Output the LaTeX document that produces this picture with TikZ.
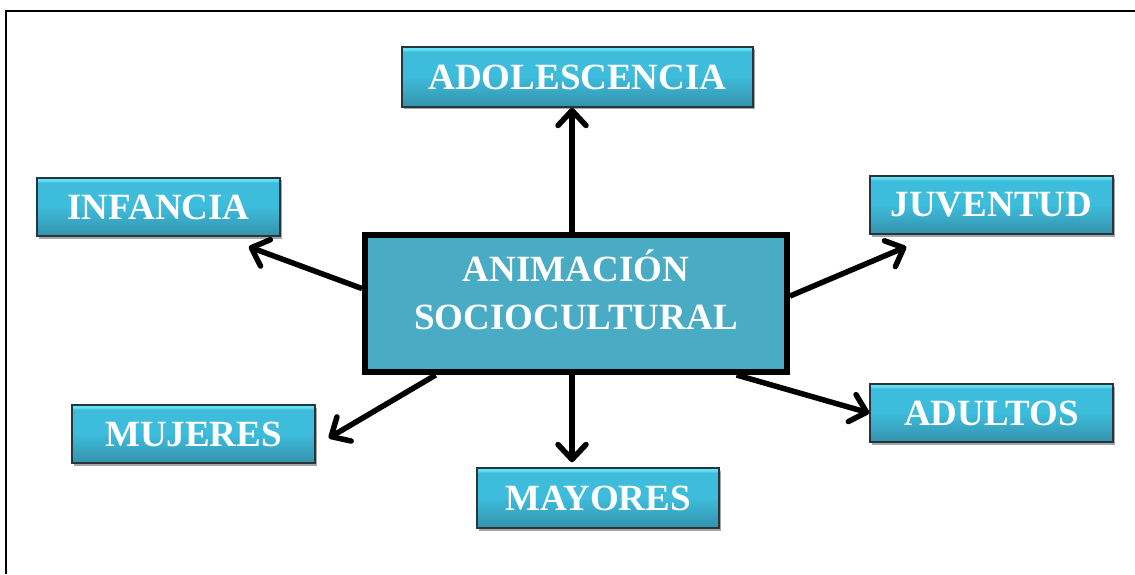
\documentclass[tikz,border=0pt]{standalone}
\usepackage{fontspec}
\setmainfont{Liberation Serif}
\usepackage{tikz}
\usetikzlibrary{arrows.meta, shadows}

\definecolor{cajaarriba}{HTML}{64E0F4}
\definecolor{cajamedio}{HTML}{3DBCDB}
\definecolor{cajaabajo}{HTML}{3592AC}
\definecolor{centrofondo}{HTML}{4AABC5}
\definecolor{cajaborde}{HTML}{26363C}

\pgfdeclareverticalshading{cajabrillo}{100bp}{color(0bp)=(cajaabajo); color(25bp)=(cajaabajo);
  color(50bp)=(cajamedio); color(71bp)=(cajamedio); color(73bp)=(cajaarriba); color(100bp)=(cajaarriba)}

\tikzset{
  caja/.style={rectangle, draw=cajaborde, line width=1.5pt, shading=cajabrillo,
    minimum width=243pt, minimum height=58pt, inner sep=0pt,
    drop shadow={shadow xshift=2pt, shadow yshift=-2.5pt, opacity=0.35, fill=black},
    text=white, font=\fontsize{37}{40}\selectfont\bfseries},
  flecha/.style={line width=5.5pt, -{Straight Barb[length=15pt, width=28pt, round]}}
}

\begin{document}
\begin{tikzpicture}[x=1pt, y=1pt]
        \useasboundingbox (0,0) rectangle (1135,574);
        % Frame
        \draw[line width=2pt] (6,0) -- (6,563) -- (1135,563);

        % Nodes
        \node[rectangle, draw=black, line width=6pt, fill=centrofondo,
              minimum width=422pt, minimum height=137pt] (centro) at (576,270.5) {};
        \node[text=white, align=center, font=\fontsize{37}{48}\selectfont\bfseries]
              (centrotxt) at (576,284) {ANIMACIÓN\\SOCIOCULTURAL};
        \node[caja, minimum width=351pt, minimum height=60pt] (adol) at (577.5,497) {ADOLESCENCIA};
        \node[caja] (inf) at (158.5,367) {INFANCIA};
        \node[caja] (juv) at (991.5,369) {JUVENTUD};
        \node[caja] (muj) at (193.5,140) {MUJERES};
        \node[caja] (adu) at (991.5,161) {ADULTOS};
        \node[caja, minimum width=242pt, minimum height=60pt] (may) at (598,76) {MAYORES};

        % Lines
        \draw[flecha] ([xshift=-4pt]centro.north) -- ([xshift=-4pt]centro.north |- adol.south);
        \draw[flecha] (centro.176.5) -- ([xshift=-32pt, yshift=-10pt]inf.south east);
        \draw[flecha] (centro.2) -- ([xshift=37pt, yshift=-12pt]juv.south west);
        \draw[flecha] (centro.207) -- ([xshift=13pt, yshift=-4pt]muj.east);
        \draw[flecha] ([xshift=-4pt]centro.south) -- ([xshift=-4pt, yshift=5pt]centro.south |- may.north);
        \draw[flecha] (centro.-24) -- (adu.west);
    \end{tikzpicture}
\end{document}
